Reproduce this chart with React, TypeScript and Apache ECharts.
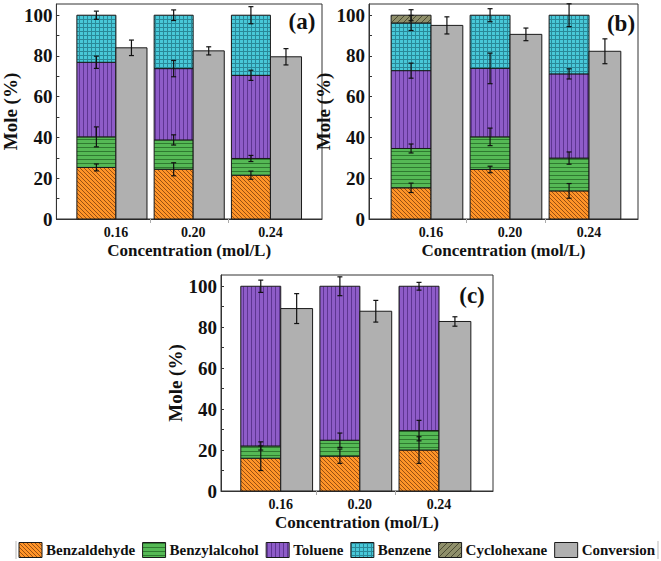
import React, { useEffect, useRef } from 'react';
import * as echarts from 'echarts';

// ---------- data ----------
const concentrations = [0.16, 0.2, 0.24];
const concLabels = ['0.16', '0.20', '0.24'];
const products = ['Benzaldehyde', 'Benzylalcohol', 'Toluene', 'Benzene', 'Cyclohexane'];
const legendNames = ['Benzaldehyde', 'Benzylalcohol', 'Toluene', 'Benzene', 'Cyclohexane', 'Conversion'];
const yTickLabels = [0, 20, 40, 60, 80, 100];

// panel (a): segment heights (mol %)
const aBenzaldehyde = [25.3, 24.4, 21.5];
const aBenzylalcohol = [15.0, 14.4, 8.2];
const aToluene = [36.6, 35.0, 40.8];
const aBenzene = [23.1, 26.2, 29.5];
const aCyclohexane = [0, 0, 0];
const aConversion = [84.0, 82.5, 79.6];
const aErrBenzaldehyde = [1.7, 3.2, 2.0];
const aErrBenzylalcohol = [4.9, 2.5, 1.5];
const aErrToluene = [3.0, 4.0, 2.5];
const aErrBenzene = [2.0, 2.6, 4.2];
const aErrCyclohexane = [0, 0, 0];
const aErrConversion = [3.8, 2.0, 4.0];

// panel (b)
const bBenzaldehyde = [15.3, 24.3, 13.8];
const bBenzylalcohol = [19.3, 16.0, 16.1];
const bToluene = [38.2, 33.6, 41.3];
const bBenzene = [23.4, 26.1, 28.8];
const bCyclohexane = [3.8, 0, 0];
const bConversion = [95.0, 90.6, 82.3];
const bErrBenzaldehyde = [2.3, 1.6, 3.6];
const bErrBenzylalcohol = [2.2, 4.3, 3.0];
const bErrToluene = [3.7, 7.5, 2.5];
const bErrBenzene = [3.7, 3.2, 5.6];
const bErrCyclohexane = [2.7, 0, 0];
const bErrConversion = [4.2, 3.1, 6.1];

// panel (c)
const cBenzaldehyde = [16.0, 17.0, 20.0];
const cBenzylalcohol = [6.0, 7.8, 9.5];
const cToluene = [78.0, 75.2, 70.5];
const cBenzene = [0, 0, 0];
const cCyclohexane = [0, 0, 0];
const cConversion = [89.1, 87.8, 82.8];
const cErrBenzaldehyde = [6.0, 3.5, 6.5];
const cErrBenzylalcohol = [2.0, 3.5, 5.0];
const cErrToluene = [3.0, 4.6, 1.9];
const cErrBenzene = [0, 0, 0];
const cErrCyclohexane = [0, 0, 0];
const cErrConversion = [7.3, 5.3, 2.3];

// ---------- styles / layout ----------
const FONT = "'Liberation Serif', 'Times New Roman', serif";
const TXT = '#111';
const AXIS = '#333';
const STACK_W = 0.0202; // x-units
const CONV_W = 0.0161;
const Y_MAX = 105.5;

function makePattern(size: number, bg: string, fg: string, pixels: number[][]) {
  const cv = document.createElement('canvas');
  cv.width = size;
  cv.height = size;
  const ctx = cv.getContext('2d')!;
  ctx.fillStyle = bg;
  ctx.fillRect(0, 0, size, size);
  ctx.fillStyle = fg;
  pixels.forEach(([x, y]) => ctx.fillRect(x, y, 1, 1));
  return { image: cv.toDataURL(), repeat: 'repeat', imageWidth: size, imageHeight: size };
}

export default function App() {
  const ref = useRef<HTMLDivElement>(null);
  useEffect(() => {
    document.body.style.margin = '0';
    if (!ref.current) return;
    const chart = echarts.init(ref.current, null, { renderer: 'svg' });

    const range = (n: number) => Array.from({ length: n }, (_, i) => i);
    const patterns: any[] = [
      makePattern(4, '#FF9428', '#9A5012', range(4).map((i) => [i, i])),
      makePattern(4, '#55B955', '#2F7A30', range(4).map((i) => [i, 3])),
      makePattern(4, '#8E5CC8', '#5E3592', range(4).map((i) => [3, i])),
      makePattern(4, '#48C8D8', '#2A8898', [...range(4).map((i) => [i, 3]), ...range(3).map((i) => [3, i])]),
      makePattern(6, '#8F8F6A', '#4C4C34', range(6).map((i) => [i, 5 - i])),
    ];
    const convColor = '#B0B0B0';

    const panels = [
      {
        label: '(a)',
        values: [aBenzaldehyde, aBenzylalcohol, aToluene, aBenzene, aCyclohexane],
        errors: [aErrBenzaldehyde, aErrBenzylalcohol, aErrToluene, aErrBenzene, aErrCyclohexane],
        conv: aConversion,
        convErr: aErrConversion,
        grid: { left: 49, top: 4, width: 273, height: 215 },
        xRange: [0.1292, 0.2667],
        labelPos: [302, 21],
      },
      {
        label: '(b)',
        values: [bBenzaldehyde, bBenzylalcohol, bToluene, bBenzene, bCyclohexane],
        errors: [bErrBenzaldehyde, bErrBenzylalcohol, bErrToluene, bErrBenzene, bErrCyclohexane],
        conv: bConversion,
        convErr: bErrConversion,
        grid: { left: 369, top: 4, width: 269, height: 215 },
        xRange: [0.1286, 0.2648],
        labelPos: [621, 23],
      },
      {
        label: '(c)',
        values: [cBenzaldehyde, cBenzylalcohol, cToluene, cBenzene, cCyclohexane],
        errors: [cErrBenzaldehyde, cErrBenzylalcohol, cErrToluene, cErrBenzene, cErrCyclohexane],
        conv: cConversion,
        convErr: cErrConversion,
        grid: { left: 221, top: 275, width: 272, height: 216 },
        xRange: [0.1298, 0.2673],
        labelPos: [472, 295],
      },
    ];

    const separators = concentrations
      .slice(0, -1)
      .map((c, i) => (c + CONV_W + concentrations[i + 1] - STACK_W) / 2);

    const grids: any[] = [];
    const xAxes: any[] = [];
    const yAxes: any[] = [];
    const series: any[] = [];
    const graphics: any[] = [];

    panels.forEach((p, pi) => {
      grids.push({ ...p.grid, show: true, borderColor: AXIS, borderWidth: 1, backgroundColor: '#fff' });
      xAxes.push({
        type: 'value',
        gridIndex: pi,
        min: p.xRange[0],
        max: p.xRange[1],
        axisLine: { show: true, lineStyle: { color: AXIS, width: 1 } },
        axisTick: { show: true, customValues: separators, length: 4, lineStyle: { color: '#aaa' } },
        splitLine: { show: false },
        axisLabel: {
          customValues: concentrations,
          formatter: (v: number) => concLabels[concentrations.findIndex((c) => Math.abs(c - v) < 1e-6)] ?? '',
          fontFamily: FONT,
          fontWeight: 'bold',
          fontSize: 14,
          color: TXT,
          margin: 6,
        },
        name: 'Concentration (mol/L)',
        nameLocation: 'middle',
        nameGap: 23,
        nameTextStyle: { fontFamily: FONT, fontWeight: 'bold', fontSize: 17, color: TXT },
      });
      yAxes.push({
        type: 'value',
        gridIndex: pi,
        min: 0,
        max: Y_MAX,
        axisLine: { show: true, lineStyle: { color: AXIS, width: 1 } },
        axisTick: {
          show: true,
          inside: true,
          length: 3,
          customValues: [0, 10, 20, 30, 40, 50, 60, 70, 80, 90, 100],
          lineStyle: { color: AXIS },
        },
        splitLine: { show: false },
        axisLabel: {
          customValues: yTickLabels,
          fontFamily: FONT,
          fontWeight: 'bold',
          fontSize: 19,
          color: TXT,
          margin: 4,
        },
        name: 'Mole (%)',
        nameLocation: 'middle',
        nameGap: 30,
        nameTextStyle: { fontFamily: FONT, fontWeight: 'bold', fontSize: 19, color: TXT },
      });

      const data = concentrations.map((c, i) => [c, i]);

      // stacked product bars
      series.push({
        type: 'custom',
        name: 'products' + pi,
        xAxisIndex: pi,
        yAxisIndex: pi,
        data,
        encode: { x: 0, y: 1 },
        z: 2,
        renderItem: (params: any, api: any) => {
          const i = params.dataIndex;
          const c = api.value(0);
          const w = api.size([STACK_W, 0])[0];
          const children: any[] = [];
          let cum = 0;
          p.values.forEach((arr, k) => {
            const v = arr[i];
            if (!v) return;
            const top = cum + v;
            const b0 = api.coord([c, cum]);
            const t0 = api.coord([c, top]);
            children.push({
              type: 'rect',
              shape: { x: b0[0] - w, y: t0[1], width: w, height: b0[1] - t0[1] },
              style: { fill: patterns[k], stroke: '#1a1a1a', lineWidth: 1 },
            });
            cum = top;
          });
          return { type: 'group', children };
        },
      });

      // conversion bars
      series.push({
        type: 'custom',
        name: 'conversion' + pi,
        xAxisIndex: pi,
        yAxisIndex: pi,
        data,
        encode: { x: 0, y: 1 },
        z: 2,
        renderItem: (params: any, api: any) => {
          const i = params.dataIndex;
          const c = api.value(0);
          const w = api.size([CONV_W, 0])[0];
          const b0 = api.coord([c, 0]);
          const t0 = api.coord([c, p.conv[i]]);
          return {
            type: 'rect',
            shape: { x: b0[0], y: t0[1], width: w, height: b0[1] - t0[1] },
            style: { fill: convColor, stroke: '#1a1a1a', lineWidth: 1 },
          };
        },
      });

      // error bars
      series.push({
        type: 'custom',
        name: 'errors' + pi,
        xAxisIndex: pi,
        yAxisIndex: pi,
        data,
        encode: { x: 0, y: 1 },
        z: 5,
        renderItem: (params: any, api: any) => {
          const i = params.dataIndex;
          const c = api.value(0);
          const children: any[] = [];
          const cap = 2.5;
          const addErr = (xv: number, y: number, e: number) => {
            const lo = api.coord([xv, y - e]);
            const hi = api.coord([xv, y + e]);
            const st = { stroke: '#111', lineWidth: 1.2 };
            children.push({ type: 'line', shape: { x1: lo[0], y1: lo[1], x2: hi[0], y2: hi[1] }, style: st });
            children.push({ type: 'line', shape: { x1: lo[0] - cap, y1: lo[1], x2: lo[0] + cap, y2: lo[1] }, style: st });
            children.push({ type: 'line', shape: { x1: hi[0] - cap, y1: hi[1], x2: hi[0] + cap, y2: hi[1] }, style: st });
          };
          let cum = 0;
          p.values.forEach((arr, k) => {
            const v = arr[i];
            if (!v) return;
            cum += v;
            const e = p.errors[k][i];
            if (e) addErr(c - STACK_W / 2, cum, e);
          });
          addErr(c + CONV_W / 2, p.conv[i], p.convErr[i]);
          return { type: 'group', children };
        },
      });

      graphics.push({
        type: 'text',
        x: p.labelPos[0],
        y: p.labelPos[1],
        z: 10,
        style: {
          text: p.label,
          fontFamily: FONT,
          fontWeight: 'bold',
          fontSize: 23,
          fill: TXT,
          align: 'center',
          verticalAlign: 'middle',
        },
      });
    });

    // legend: packed between the two edge lines
    const legendLeft = 19;
    const legendRight = 655;
    const legendY = 550;
    const iconW = 23;
    const iconH = 15;
    const iconTextGap = 4;
    const legendFontSize = 15;
    const mc = document.createElement('canvas').getContext('2d')!;
    mc.font = `bold ${legendFontSize}px 'Liberation Serif', 'Times New Roman', serif`;
    const textWidths = legendNames.map((n) => mc.measureText(n).width);
    const fixed = textWidths.reduce((s, w) => s + w + iconW + iconTextGap, 0);
    const itemGap = Math.max(4, (legendRight - legendLeft - fixed) / (legendNames.length - 1));
    const legendFills = [...patterns, convColor];
    let lx = legendLeft;
    legendNames.forEach((name, k) => {
      graphics.push({
        type: 'rect',
        shape: { x: lx, y: legendY - iconH / 2, width: iconW, height: iconH },
        style: { fill: legendFills[k], stroke: '#1a1a1a', lineWidth: 1 },
      });
      graphics.push({
        type: 'text',
        x: lx + iconW + iconTextGap,
        y: legendY,
        style: {
          text: name,
          fontFamily: FONT,
          fontWeight: 'bold',
          fontSize: legendFontSize,
          fill: TXT,
          align: 'left',
          verticalAlign: 'middle',
        },
      });
      lx += iconW + iconTextGap + textWidths[k] + itemGap;
    });
    graphics.push({ type: 'line', shape: { x1: 16, y1: 541, x2: 16, y2: 559 }, style: { stroke: '#bbb', lineWidth: 1 } });
    graphics.push({ type: 'line', shape: { x1: 658, y1: 541, x2: 658, y2: 559 }, style: { stroke: '#bbb', lineWidth: 1 } });

    chart.setOption({
      animation: false,
      backgroundColor: '#fff',
      grid: grids,
      xAxis: xAxes,
      yAxis: yAxes,
      series,
      graphic: { elements: graphics },
    });
    return () => chart.dispose();
  }, []);
  return <div ref={ref} style={{ width: 661, height: 561 }} />;
}
